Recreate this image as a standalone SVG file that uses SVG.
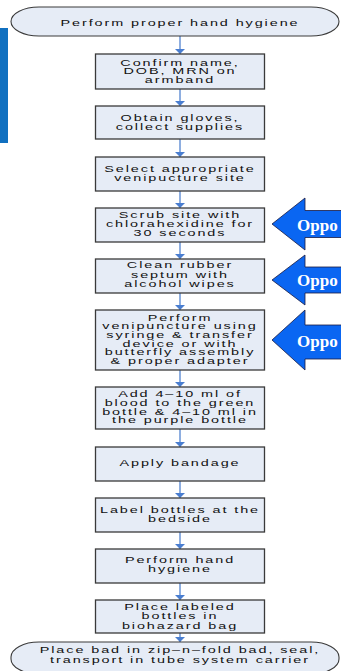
<svg xmlns="http://www.w3.org/2000/svg" width="341" height="671" viewBox="0 0 341 671">
<defs>
<style>
.bg{fill:#ffffff}
.box{fill:#e6ecf6;stroke:#3a3a3a;stroke-width:1.3}
.term{fill:#e6ecf6;stroke:#3a3a3a;stroke-width:1.1}
.t{font-family:"Liberation Sans",Arial,sans-serif;font-size:9px;fill:#111;text-anchor:middle;letter-spacing:1.2px}
.conn{stroke:#8eaee0;stroke-width:2;fill:none}
.opp{fill:#0a66f2;stroke:#1a1a40;stroke-width:0.8}
.ot{font-family:"Liberation Serif","Times New Roman",serif;font-weight:bold;font-size:17px;fill:#ffffff}
</style>
<marker id="ah" viewBox="0 0 5 10" refX="5" refY="5" markerWidth="5" markerHeight="10" markerUnits="userSpaceOnUse" orient="auto">
<path d="M0,0 L5,5 L0,10 z" fill="#4a7ed0"/>
</marker>
</defs>
<rect class="bg" x="0" y="0" width="341" height="671"/>
<rect id="sidebar" x="0" y="28" width="8" height="115" fill="#1170c0"/>

<g id="connectors">
<line class="conn" x1="180" y1="36" x2="180" y2="54" marker-end="url(#ah)"/>
<line class="conn" x1="180" y1="89" x2="180" y2="106" marker-end="url(#ah)"/>
<line class="conn" x1="180" y1="139" x2="180" y2="157" marker-end="url(#ah)"/>
<line class="conn" x1="180" y1="191" x2="180" y2="208" marker-end="url(#ah)"/>
<line class="conn" x1="180" y1="242" x2="180" y2="259" marker-end="url(#ah)"/>
<line class="conn" x1="180" y1="293" x2="180" y2="310" marker-end="url(#ah)"/>
<line class="conn" x1="180" y1="370" x2="180" y2="387" marker-end="url(#ah)"/>
<line class="conn" x1="180" y1="429" x2="180" y2="447" marker-end="url(#ah)"/>
<line class="conn" x1="180" y1="481" x2="180" y2="498" marker-end="url(#ah)"/>
<line class="conn" x1="180" y1="532" x2="180" y2="549" marker-end="url(#ah)"/>
<line class="conn" x1="180" y1="583" x2="180" y2="600" marker-end="url(#ah)"/>
<line class="conn" x1="180" y1="633" x2="180" y2="642" marker-end="url(#ah)"/>
</g>

<g id="start">
<rect class="term" x="11" y="7" width="328" height="29" rx="28" ry="14.5"/>
<text class="t" transform="matrix(1.6,0,0,1,-108,0)" x="180" y="26">Perform proper hand hygiene</text>
</g>

<g id="n1">
<rect class="box" x="95.5" y="54" width="169" height="35"/>
<text class="t" transform="matrix(1.6,0,0,1,-108,0)" x="180" y="66">Confirm name,</text>
<text class="t" transform="matrix(1.6,0,0,1,-108,0)" x="180" y="74.5">DOB, MRN on</text>
<text class="t" transform="matrix(1.6,0,0,1,-108,0)" x="180" y="83">armband</text>
</g>

<g id="n2">
<rect class="box" x="95.5" y="106" width="169" height="33"/>
<text class="t" transform="matrix(1.6,0,0,1,-108,0)" x="180" y="121.5">Obtain gloves,</text>
<text class="t" transform="matrix(1.6,0,0,1,-108,0)" x="180" y="130">collect supplies</text>
</g>

<g id="n3">
<rect class="box" x="95.5" y="157" width="169" height="34"/>
<text class="t" transform="matrix(1.6,0,0,1,-108,0)" x="180" y="172.5">Select appropriate</text>
<text class="t" transform="matrix(1.6,0,0,1,-108,0)" x="180" y="181.5">venipucture site</text>
</g>

<g id="n4">
<rect class="box" x="95.5" y="208" width="169" height="34"/>
<text class="t" transform="matrix(1.6,0,0,1,-108,0)" x="180" y="218">Scrub site with</text>
<text class="t" transform="matrix(1.6,0,0,1,-108,0)" x="180" y="227">chlorahexidine for</text>
<text class="t" transform="matrix(1.6,0,0,1,-108,0)" x="180" y="236">30 seconds</text>
</g>

<g id="n5">
<rect class="box" x="95.5" y="259" width="169" height="34"/>
<text class="t" transform="matrix(1.6,0,0,1,-108,0)" x="180" y="268.5">Clean rubber</text>
<text class="t" transform="matrix(1.6,0,0,1,-108,0)" x="180" y="278">septum with</text>
<text class="t" transform="matrix(1.6,0,0,1,-108,0)" x="180" y="287.5">alcohol wipes</text>
</g>

<g id="n6">
<rect class="box" x="95.5" y="310" width="169" height="60"/>
<text class="t" transform="matrix(1.6,0,0,1,-108,0)" x="180" y="320.7">Perform</text>
<text class="t" transform="matrix(1.6,0,0,1,-108,0)" x="180" y="329.4">venipuncture using</text>
<text class="t" transform="matrix(1.6,0,0,1,-108,0)" x="180" y="338.1">syringe &amp; transfer</text>
<text class="t" transform="matrix(1.6,0,0,1,-108,0)" x="180" y="346.8">device or with</text>
<text class="t" transform="matrix(1.6,0,0,1,-108,0)" x="180" y="355.5">butterfly assembly</text>
<text class="t" transform="matrix(1.6,0,0,1,-108,0)" x="180" y="364.2">&amp; proper adapter</text>
</g>

<g id="n7">
<rect class="box" x="95.5" y="387" width="169" height="42"/>
<text class="t" transform="matrix(1.6,0,0,1,-108,0)" x="180" y="397">Add 4–10 ml of</text>
<text class="t" transform="matrix(1.6,0,0,1,-108,0)" x="180" y="405.8">blood to the green</text>
<text class="t" transform="matrix(1.6,0,0,1,-108,0)" x="180" y="414.6">bottle &amp; 4–10 ml in</text>
<text class="t" transform="matrix(1.6,0,0,1,-108,0)" x="180" y="423.4">the purple bottle</text>
</g>

<g id="n8">
<rect class="box" x="95.5" y="447" width="169" height="34"/>
<text class="t" transform="matrix(1.6,0,0,1,-108,0)" x="180" y="466">Apply bandage</text>
</g>

<g id="n9">
<rect class="box" x="95.5" y="498" width="169" height="34"/>
<text class="t" transform="matrix(1.6,0,0,1,-108,0)" x="180" y="513.3">Label bottles at the</text>
<text class="t" transform="matrix(1.6,0,0,1,-108,0)" x="180" y="522">bedside</text>
</g>

<g id="n10">
<rect class="box" x="95.5" y="549" width="169" height="34"/>
<text class="t" transform="matrix(1.6,0,0,1,-108,0)" x="180" y="563.5">Perform hand</text>
<text class="t" transform="matrix(1.6,0,0,1,-108,0)" x="180" y="572.5">hygiene</text>
</g>

<g id="n11">
<rect class="box" x="95.5" y="600" width="169" height="33"/>
<text class="t" transform="matrix(1.6,0,0,1,-108,0)" x="180" y="610.3">Place labeled</text>
<text class="t" transform="matrix(1.6,0,0,1,-108,0)" x="180" y="619.5">bottles in</text>
<text class="t" transform="matrix(1.6,0,0,1,-108,0)" x="180" y="628.8">biohazard bag</text>
</g>

<g id="end">
<rect class="term" x="11" y="642" width="328" height="32" rx="28" ry="15"/>
<text class="t" transform="matrix(1.6,0,0,1,-108,0)" x="180" y="653.5">Place bad in zip–n–fold bad, seal,</text>
<text class="t" transform="matrix(1.6,0,0,1,-108,0)" x="180" y="663.5">transport in tube system carrier</text>
</g>

<g id="opp1">
<path class="opp" d="M272,224 L305,198 L305,210.5 L345,210.5 L345,237.5 L305,237.5 L305,250 Z"/>
<text class="ot" x="297" y="231">Oppo</text>
</g>
<g id="opp2">
<path class="opp" d="M272,280 L305,255 L305,267 L345,267 L345,293 L305,293 L305,305 Z"/>
<text class="ot" x="297" y="286">Oppo</text>
</g>
<g id="opp3">
<path class="opp" d="M272,340 L305,310 L305,325 L345,325 L345,359 L305,359 L305,370 Z"/>
<text class="ot" x="297" y="346.5">Oppo</text>
</g>
</svg>
